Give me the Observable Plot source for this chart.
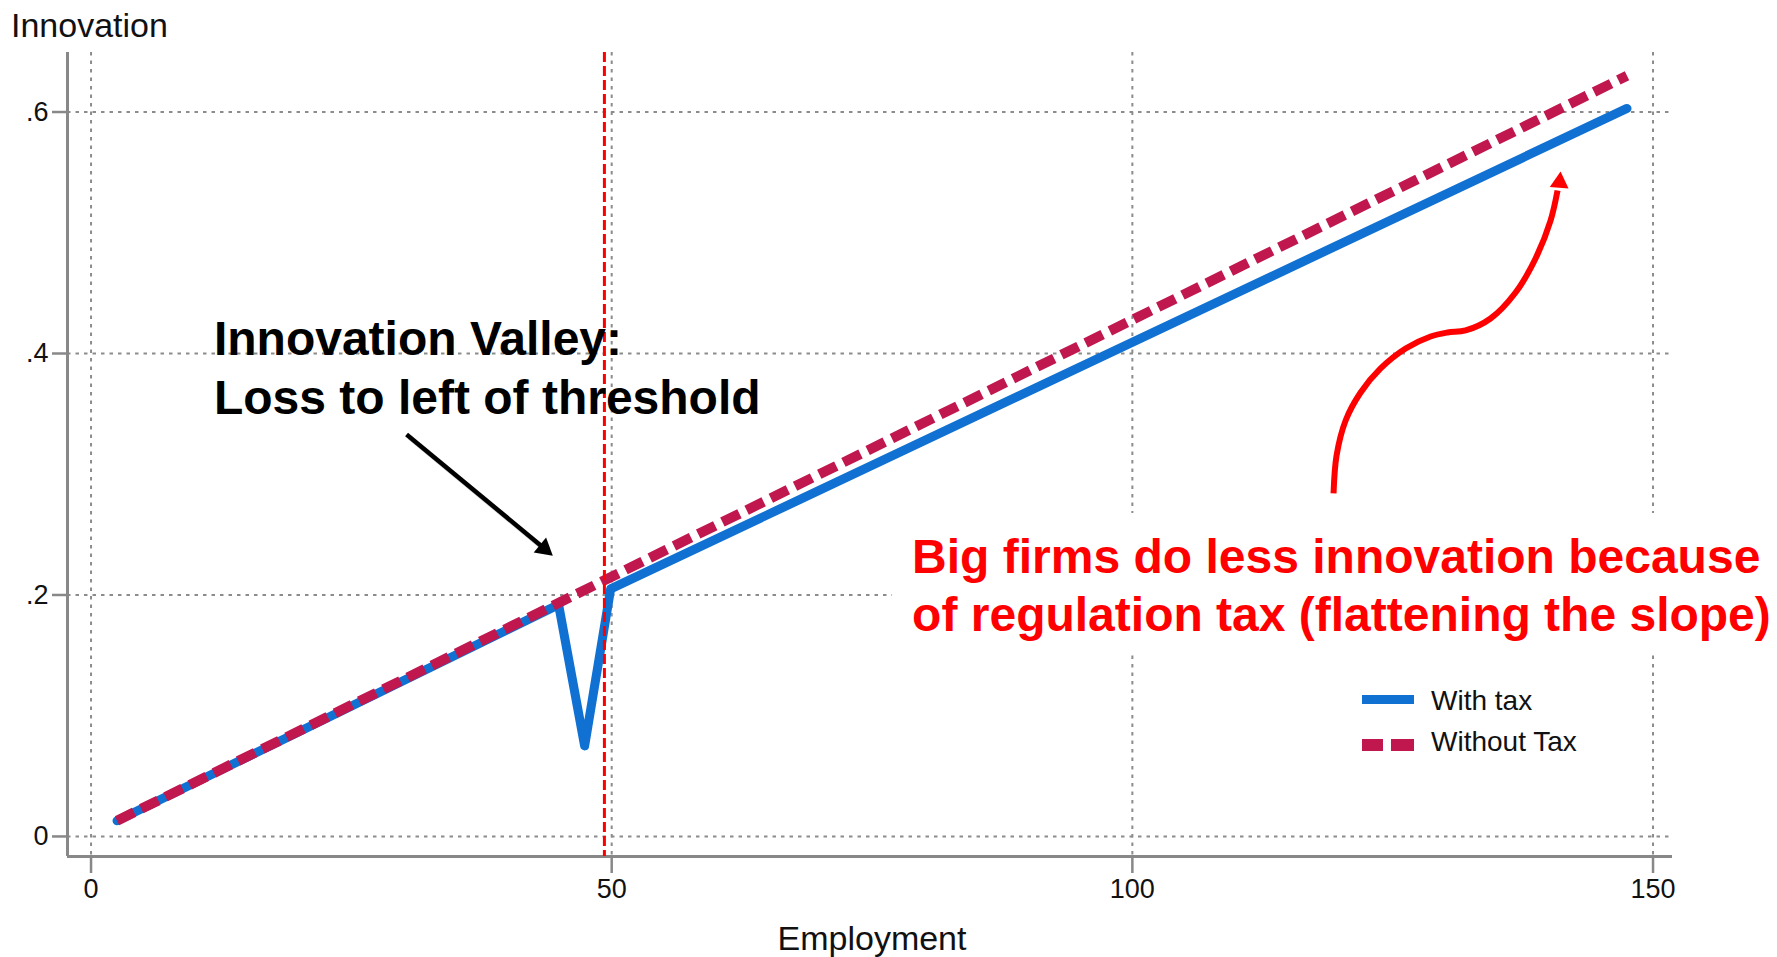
<!DOCTYPE html>
<html>
<head>
<meta charset="utf-8">
<script src="https://cdn.jsdelivr.net/npm/d3@7"></script>
<script src="https://cdn.jsdelivr.net/npm/@observablehq/plot@0.6"></script>
<style>
  body { margin: 0; background: #ffffff; font-family: "Liberation Sans", Arial, sans-serif; }
  #wrap { position: relative; width: 1777px; height: 957px; overflow: hidden; }
  #wrap > svg { position: absolute; left: 0; top: 0; }
  .ytitle { position: absolute; left: 11px; top: 8px; font-size: 34px; line-height: 34px; color: #111; }
  .xtitle { position: absolute; left: 872px; top: 921px; transform: translateX(-50%); font-size: 34px; line-height: 34px; color: #111; white-space: nowrap; }
  .leg { position: absolute; font-size: 28px; line-height: 28px; color: #111; white-space: nowrap; }
  .sw { position: absolute; }
</style>
</head>
<body>
<div id="wrap">
  <div class="ytitle">Innovation</div>
  <div class="xtitle">Employment</div>
</div>
<script>
// ---- data ----
const xTicks = [0, 50, 100, 150];
const yTicks = [0, 0.2, 0.4, 0.6];
const xDomain = [-2.26, 151.87];
const yDomain = [-0.0166, 0.6493];

// "With tax" series (vertices)
const withTaxX = [2.5, 44.9, 47.4, 49.9, 147.5];
const withTaxY = [0.013, 0.192, 0.075, 0.205, 0.603];
// "Without Tax" series
const withoutTaxX = [2.5, 147.5];
const withoutTaxY = [0.013, 0.630];
// regulation threshold
const threshold = [49.3];

// annotations (data coordinates)
const valleyText = ["Innovation Valley:\nLoss to left of threshold"];
const valleyTextPos = {x: 11.8, y: 0.4331};
const valleyArrow = {x1: 30.3, y1: 0.333, x2: 43.65, y2: 0.2377, hx: 43.52, hy: 0.2384, rot: 129.6};
const bigText = ["Big firms do less innovation because\nof regulation tax (flattening the slope)"];
const bigTextPos = {x: 78.85, y: 0.2526};
const bigBox = {x1: 76.97, x2: 162, y1: 0.1516, y2: 0.2675};
const curveX = [119.32, 119.61, 120.48, 121.92, 123.84, 126.24, 128.64, 130.27, 132.0, 134.4, 136.8, 138.72, 140.16, 140.83];
const curveY = [0.2841, 0.3155, 0.3445, 0.3677, 0.3876, 0.4041, 0.4141, 0.4174, 0.4191, 0.4290, 0.4505, 0.4787, 0.5101, 0.5350];
const curveHead = {x: 141.03, y: 0.5418, rot: 5};

const seriesNames = ["With tax", "Without Tax"];
const seriesColors = ["#1071d3", "#c0174f"];

const withTax = withTaxX.map((x, i) => ({x, y: withTaxY[i]}));
const withoutTax = withoutTaxX.map((x, i) => ({x, y: withoutTaxY[i]}));
const curve = curveX.map((x, i) => ({x, y: curveY[i]}));

const gridStyle = {stroke: "#8c8c8c", strokeOpacity: 1, strokeWidth: 2, strokeDasharray: "3.5,5"};

const plot = Plot.plot({
  width: 1777,
  height: 957,
  marginLeft: 67,
  marginRight: 105,
  marginTop: 52,
  marginBottom: 101,
  style: {fontFamily: "'Liberation Sans', Arial, sans-serif", background: "transparent", overflow: "visible", color: "#111"},
  x: {domain: xDomain},
  y: {domain: yDomain},
  marks: [
    Plot.gridX(xTicks, gridStyle),
    Plot.gridY(yTicks, gridStyle),
    Plot.rect([bigBox], {x1: "x1", x2: "x2", y1: "y1", y2: "y2", fill: "white"}),
    Plot.ruleX([xDomain[0]], {stroke: "#888888", strokeWidth: 3}),
    Plot.ruleY([yDomain[0]], {stroke: "#888888", strokeWidth: 3}),
    Plot.axisX(xTicks, {
      tickSize: 17, tickPadding: 5, fontSize: 27, stroke: "#888888", strokeWidth: 2.5, fill: "#111",
      label: null
    }),
    Plot.axisY(yTicks, {
      tickSize: 15, tickPadding: 4, fontSize: 27, stroke: "#888888", strokeWidth: 2.5, fill: "#111",
      tickFormat: d => d === 0 ? "0" : d3.format(".1f")(d).replace(/^0/, ""),
      label: null
    }),
    Plot.line(withTax, {x: "x", y: "y", stroke: seriesColors[0], strokeWidth: 9, strokeLinejoin: "round"}),
    Plot.line(withoutTax, {x: "x", y: "y", stroke: seriesColors[1], strokeWidth: 10, strokeDasharray: "19,8", strokeLinecap: "butt"}),
    Plot.ruleX(threshold, {stroke: "#ff0000", strokeWidth: 3, strokeDasharray: "10,4"}),
    // black arrow with soft shadow
    Plot.link([valleyArrow], {x1: "x1", y1: "y1", x2: "x2", y2: "y2", stroke: "#999", strokeOpacity: 0.45, strokeWidth: 5, dx: 3, dy: 3}),
    Plot.link([valleyArrow], {x1: "x1", y1: "y1", x2: "x2", y2: "y2", stroke: "#000", strokeWidth: 4.5}),
    Plot.dot([valleyArrow], {x: "hx", y: "hy", symbol: "triangle", r: 7.2, fill: "#000", stroke: "none", rotate: "rot"}),
    Plot.text(valleyText, {
      x: () => valleyTextPos.x, y: () => valleyTextPos.y, text: d => d,
      textAnchor: "start", lineAnchor: "top", lineHeight: 1.23,
      fontSize: 48, fontWeight: "bold", fill: "#000"
    }),
    // red curved arrow
    Plot.line(curve, {x: "x", y: "y", curve: "catmull-rom", stroke: "#ff0000", strokeWidth: 6, strokeLinecap: "butt"}),
    Plot.dot([curveHead], {x: "x", y: "y", symbol: "triangle", r: 7, fill: "#ff0000", stroke: "none", rotate: "rot"}),
    Plot.text(bigText, {
      x: () => bigTextPos.x, y: () => bigTextPos.y, text: d => d,
      textAnchor: "start", lineAnchor: "top", lineHeight: 1.21,
      fontSize: 48, fontWeight: "bold", fill: "#ff0000"
    })
  ]
});

const wrap = document.getElementById("wrap");
wrap.insertBefore(plot, wrap.firstChild);

// legend (inside plot area, as in the original)
function addEl(cls, style, text) {
  const el = document.createElement("div");
  el.className = cls;
  Object.assign(el.style, style);
  if (text) el.textContent = text;
  wrap.appendChild(el);
}
addEl("sw", {left: "1362px", top: "695px", width: "52px", height: "9px", background: seriesColors[0]});
addEl("sw", {left: "1362px", top: "739px", width: "21px", height: "12px", background: seriesColors[1]});
addEl("sw", {left: "1391px", top: "739px", width: "23px", height: "12px", background: seriesColors[1]});
addEl("leg", {left: "1431px", top: "687px"}, seriesNames[0]);
addEl("leg", {left: "1431px", top: "728px"}, seriesNames[1]);
</script>
</body>
</html>
